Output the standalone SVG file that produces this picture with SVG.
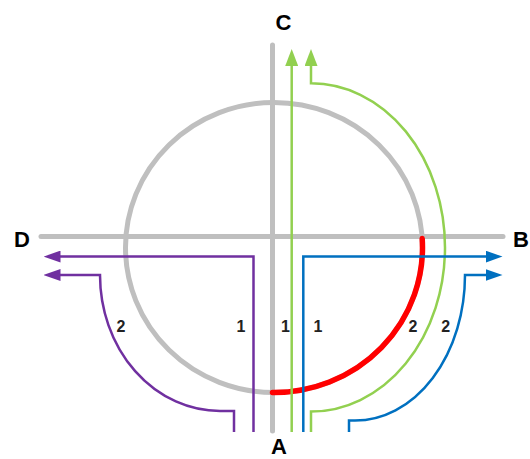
<svg xmlns="http://www.w3.org/2000/svg" width="530" height="459" viewBox="0 0 530 459">
<style>
.road{fill:none;stroke:#BFBFBF;stroke-width:5;stroke-linecap:round}
.g{fill:none;stroke:#92D050;stroke-width:2.5}
.b{fill:none;stroke:#0070C0;stroke-width:2.5}
.p{fill:none;stroke:#7030A0;stroke-width:2.5}
.red{fill:none;stroke:#FF0000;stroke-width:5.5;stroke-linecap:round}
.lbl{font-family:"Liberation Sans",Arial,sans-serif;font-weight:bold;font-size:22px;fill:#000;text-anchor:middle}
.num{font-family:"Liberation Sans",Arial,sans-serif;font-weight:bold;font-size:16px;fill:#222;text-anchor:middle}
</style>
<defs>
<marker id="ag" viewBox="0 -6.5 17 13" refX="0.5" refY="0" markerWidth="17" markerHeight="13" markerUnits="userSpaceOnUse" orient="auto"><path d="M0,-6.5L17,0L0,6.5z" fill="#92D050"/></marker>
<marker id="ab" viewBox="0 -6 17 12" refX="0.5" refY="0" markerWidth="17" markerHeight="12" markerUnits="userSpaceOnUse" orient="auto"><path d="M0,-6L17,0L0,6z" fill="#0070C0"/></marker>
<marker id="ap" viewBox="0 -6 17 12" refX="0.5" refY="0" markerWidth="17" markerHeight="12" markerUnits="userSpaceOnUse" orient="auto"><path d="M0,-6L17,0L0,6z" fill="#7030A0"/></marker>
</defs>
<g id="roads">
<ellipse class="road" cx="274" cy="247.5" rx="148.5" ry="145"/>
<line class="road" x1="272.5" y1="45" x2="272.5" y2="431"/>
<line class="road" x1="41" y1="236.5" x2="503" y2="236.5"/>
</g>
<g id="connectors">
<path class="red" d="M272.5,392.5 A148.5,145 0 0 0 422.2,238.6"/>
<path class="g" d="M291.7,432 V65.5" marker-end="url(#ag)"/>
<path class="g" d="M311,432 V411.6 A134,164.2 0 0 0 445,247.5 A134,164.2 0 0 0 311,83.3 V65.5" marker-end="url(#ag)"/>
<path class="b" d="M303.3,432 V256.6 H486" marker-end="url(#ab)"/>
<path class="b" d="M349,432 V420.5 H355 A110,145.5 0 0 0 465,275 H486" marker-end="url(#ab)"/>
<path class="p" d="M253.5,432 V256.6 H60" marker-end="url(#ap)"/>
<path class="p" d="M234,432 V411 H220 A120,136 0 0 1 100,275 H60" marker-end="url(#ap)"/>
</g>
<g id="node-C"><text class="lbl" x="283.5" y="29.5">C</text></g>
<g id="node-A"><text class="lbl" x="279" y="454">A</text></g>
<g id="node-D"><text class="lbl" x="22" y="246.7">D</text></g>
<g id="node-B"><text class="lbl" x="521" y="246.7">B</text></g>
<g id="labels">
<text class="num" x="121" y="332">2</text>
<text class="num" x="241" y="332">1</text>
<text class="num" x="285.4" y="332">1</text>
<text class="num" x="318" y="332">1</text>
<text class="num" x="413" y="332">2</text>
<text class="num" x="445.6" y="332">2</text>
</g>
</svg>
